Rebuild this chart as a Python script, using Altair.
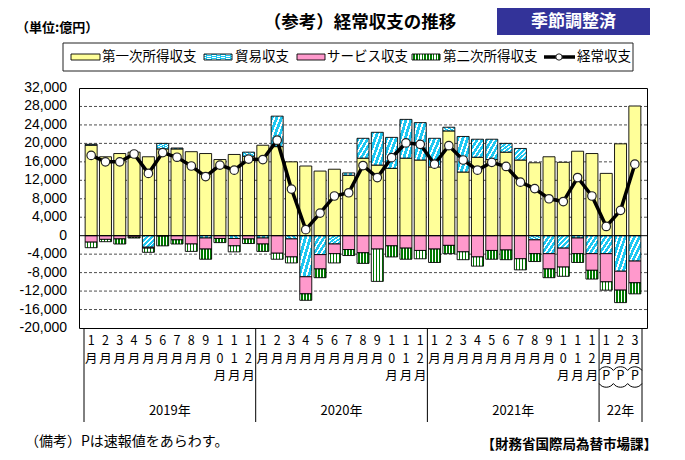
import altair as alt
import pandas as pd

# ---------------- data (億円) ----------------
years = ["2019"] * 12 + ["2020"] * 12 + ["2021"] * 12 + ["2022"] * 3
months = list(range(1, 13)) * 3 + [1, 2, 3]
preliminary = [False] * 36 + [True] * 3

primary = [19600, 17100, 17800, 18100, 17100, 18800, 18800, 18200, 17800, 16500, 17600, 17200,
           19600, 19300, 16000, 15100, 14000, 14400, 13100, 16800, 15300, 14600, 16800, 16400,
           14900, 22700, 13800, 17000, 16500, 18100, 16400, 15800, 17100, 15900, 18300, 17800,
           13500, 19900, 28100]
trade = [200, 0, 0, 0, -2500, 1200, 200, 0, -500, 0, -600, 900,
         -500, 6600, -700, -8900, -4100, -1800, 500, 4300, 7100, 6700, 8400, 8100,
         6200, 800, 7700, 3900, 4400, 1900, 2500, -900, -3900, -2700, -500, -3900,
         -3900, -7700, -5500]
services = [-1400, -800, -700, -300, -200, -100, -900, -1800, -2400, -600, -1600, -700,
            -1300, -3800, -3900, -3700, -3100, -2100, -3000, -3700, -2900, -2200, -2700, -3200,
            -2900, -2100, -3500, -4600, -3200, -3100, -5000, -3000, -3300, -4100, -3400, -3600,
            -6100, -4100, -4700]
secondary = [-1200, -500, -1100, -200, -900, -2100, -900, -1600, -2200, -900, -1300, -1000,
             -1600, -1300, -1300, -1400, -1900, -2000, -1300, -2300, -7000, -2400, -2400, -1800,
             -2900, -1800, -1700, -2000, -1900, -2100, -2400, -1700, -1900, -2000, -1900, -1900,
             -1800, -2700, -2400]
current = [17400, 16000, 16000, 17700, 13500, 18000, 17000, 15100, 12800, 15300, 14200, 16600,
           16500, 20700, 10100, 1300, 4900, 8600, 9300, 15200, 12600, 16900, 20100, 19800,
           15500, 19500, 16400, 14200, 15900, 15000, 11600, 10200, 8000, 7400, 12600, 8600,
           2000, 5500, 15500]

series_names = ["第一次所得収支", "貿易収支", "サービス収支", "第二次所得収支"]
line_name = "経常収支"
year_labels = ["2019年", "2020年", "2021年", "22年"]
year_first = [0, 12, 24, 36]
year_last = [12, 24, 36, 39]
y_ticks = list(range(-20000, 32001, 4000))
y_tick_labels = [f"{v:,}" for v in y_ticks]

# ---------------- tables ----------------
n = len(months)
arrays = [primary, trade, services, secondary]
rows = []
for i in range(n):
    for k, name in enumerate(series_names):
        if arrays[k][i] != 0:
            rows.append({"idx": i, "series": name, "order": k, "value": arrays[k][i]})
bars_df = pd.DataFrame(rows)
line_df = pd.DataFrame({"idx": list(range(n)), "value": current})


def month_label(m, p):
    body = "\n".join(list(str(m))) + "\n月"
    if p:
        body += "\nP"
    return body


lab_df = pd.DataFrame({"idx": list(range(n)),
                       "label": [month_label(m, p) for m, p in zip(months, preliminary)],
                       "prelim": preliminary})
yr_df = pd.DataFrame({"label": year_labels, "a": year_first, "b": year_last})
div_df = pd.DataFrame({"pos": sorted(set(year_first + year_last))})
tick_df = pd.DataFrame({"v": y_ticks, "label": y_tick_labels})

# ---------------- styles ----------------
FONT = "Noto Sans CJK JP"


def stripes(c1, c2, count, frac, x1, y1, x2, y2):
    stops = []
    for k in range(count):
        a = k / count
        b = (k + frac) / count
        c = (k + 1) / count
        stops += [{"offset": round(a, 4), "color": c1}, {"offset": round(b, 4), "color": c1},
                  {"offset": round(b, 4), "color": c2}, {"offset": round(c, 4), "color": c2}]
    return {"gradient": "linear", "x1": x1, "y1": y1, "x2": x2, "y2": y2, "stops": stops}


YELLOW = "#FFFF99"
PINK = "#FF99CC"
trade_fill = stripes("#1EC8F2", "#FFFFFF", 5, 0.62, 0, 0, 1, 1)
green_fill = stripes("#FFFFFF", "#007A00", 4, 0.45, 0, 0, 1, 0)
fills = [YELLOW, trade_fill, PINK, green_fill]
legend_fills = [YELLOW, stripes("#1EC8F2", "#FFFFFF", 6, 0.6, 0, 0, 1, 1), PINK,
                stripes("#FFFFFF", "#007A00", 10, 0.45, 0, 0, 1, 0)]

xscale = alt.Scale(domain=[0, n], nice=False, zero=False)
yscale = alt.Scale(domain=[-20000, 32000], nice=False, zero=False)

# grid lines and y tick labels
grid = alt.Chart(tick_df).transform_filter(
    "datum.v != 0 && datum.v != 32000 && datum.v != -20000"
).mark_rule(color="black", strokeWidth=0.7, strokeDash=[3, 2]).encode(
    y=alt.Y("v:Q", scale=yscale, axis=None))
ytext = alt.Chart(tick_df).mark_text(align="right", baseline="middle", fontSize=14,
                                     font="Liberation Sans", color="black").encode(
    x=alt.value(-12), y=alt.Y("v:Q", scale=yscale, axis=None), text="label:N")

base = alt.Chart(bars_df).transform_stack(
    stack="value", groupby=["idx"], as_=["y0", "y1"],
    sort=[alt.SortField(field="order", order="ascending")], offset="zero"
).transform_calculate(xc="datum.idx + 0.5")

layers = []
for k in range(4):
    layers.append(
        base.transform_filter(alt.datum.order == k).mark_bar(
            width=12, fill=fills[k], stroke="black", strokeWidth=0.9
        ).encode(
            x=alt.X("xc:Q", scale=xscale, axis=None),
            y=alt.Y("y0:Q", scale=yscale, axis=None),
            y2="y1:Q",
        )
    )

zero = alt.Chart(pd.DataFrame({"z": [0]})).mark_rule(color="black", strokeWidth=1).encode(
    y=alt.Y("z:Q", scale=yscale, axis=None))

lbase = alt.Chart(line_df).transform_calculate(xc="datum.idx + 0.5")
line = lbase.mark_line(color="black", strokeWidth=3.5).encode(
    x=alt.X("xc:Q", scale=xscale, axis=None), y=alt.Y("value:Q", scale=yscale, axis=None))
pts = lbase.mark_point(shape="circle", filled=True, fill="white", stroke="#222222",
                       strokeWidth=1.2, size=72, opacity=1).encode(
    x=alt.X("xc:Q", scale=xscale, axis=None), y=alt.Y("value:Q", scale=yscale, axis=None))

mlabels = alt.Chart(lab_df).transform_calculate(xc="datum.idx + 0.5").mark_text(
    lineBreak="\n", lineHeight=17.5, baseline="top", align="center", fontSize=12.5,
    font=FONT, color="black"
).encode(x=alt.X("xc:Q", scale=xscale, axis=None), y=alt.value(247), text="label:N")

# scalloped brackets around the "P" marks
pbase = alt.Chart(lab_df).transform_filter(alt.datum.prelim).transform_calculate(
    xc="datum.idx + 0.5")
arc_top = pbase.mark_point(shape="M-1,0.35C-0.6,-0.35 0.6,-0.35 1,0.35", filled=False,
                           stroke="black", strokeWidth=1, size=196, opacity=1).encode(
    x=alt.X("xc:Q", scale=xscale, axis=None), y=alt.value(280))
arc_bot = pbase.mark_point(shape="M-1,-0.35C-0.6,0.35 0.6,0.35 1,-0.35", filled=False,
                           stroke="black", strokeWidth=1, size=196, opacity=1).encode(
    x=alt.X("xc:Q", scale=xscale, axis=None), y=alt.value(298))

dividers = alt.Chart(div_df).mark_rule(color="black", strokeWidth=1).encode(
    x=alt.X("pos:Q", scale=xscale, axis=None), y=alt.value(240), y2=alt.value(334))

ylabels = alt.Chart(yr_df).transform_calculate(xc="(datum.a + datum.b) / 2").mark_text(
    fontSize=13, font=FONT, baseline="middle", align="center", color="black"
).encode(x=alt.X("xc:Q", scale=xscale, axis=None), y=alt.value(323), text="label:N")

one = pd.DataFrame({"o": [0]})


def rect(x, x2, y, y2, fill, stroke=None, sw=1):
    kw = {"fill": fill}
    if stroke:
        kw.update(stroke=stroke, strokeWidth=sw)
    return alt.Chart(one).mark_rect(**kw).encode(
        x=alt.value(x), x2=alt.value(x2), y=alt.value(y), y2=alt.value(y2))


def text(s, x, y, size, align="left", weight="normal", color="black", font=FONT):
    return alt.Chart(one).mark_text(text=s, fontSize=size, align=align, baseline="middle",
                                    fontWeight=weight, color=color, font=font).encode(
        x=alt.value(x), y=alt.value(y))


extras = [
    text("（参考）経常収支の推移", 281, -65, 17.5, align="center", weight="bold"),
    text("（単位:億円）", -63, -60, 13, weight="bold"),
    rect(418, 571, -84, -53, "#333399"),
    text("季節調整済", 494.5, -66, 17, align="center", weight="bold", color="white"),
    rect(-16, 554, -45, -17, "white", stroke="#222222", sw=1),
]
sw_x = [(-8, 21), (125, 153), (218, 246), (333, 361)]
tx_x = [23, 156, 248, 364]
for k in range(4):
    extras.append(rect(sw_x[k][0], sw_x[k][1], -34, -28, legend_fills[k], stroke="black", sw=0.9))
    extras.append(text(series_names[k], tx_x[k], -31, 13.5))
extras.append(alt.Chart(one).mark_rule(color="black", strokeWidth=3.5).encode(
    x=alt.value(465), x2=alt.value(496), y=alt.value(-31)))
extras.append(alt.Chart(one).mark_point(shape="circle", filled=True, fill="white",
                                        stroke="#222222", strokeWidth=1, size=40,
                                        opacity=1).encode(x=alt.value(480), y=alt.value(-31)))
extras.append(text(line_name, 498, -31, 13.5))
extras.append(text("（備考）Pは速報値をあらわす。", -54, 354, 14))
extras.append(text("【財務省国際局為替市場課】", 578, 357, 13.5, align="right", weight="bold"))

chart = alt.layer(grid, ytext, *layers, zero, line, pts, mlabels, arc_top, arc_bot, dividers,
                  ylabels, *extras).properties(
    width=568, height=240,
    padding={"left": 71, "top": 80, "right": 30, "bottom": 124},
    autosize=alt.AutoSizeParams(type="none"),
    background="white",
).configure_view(stroke="black", strokeWidth=1)

chart.save("out.html", embed_options={"renderer": "svg", "actions": False})
